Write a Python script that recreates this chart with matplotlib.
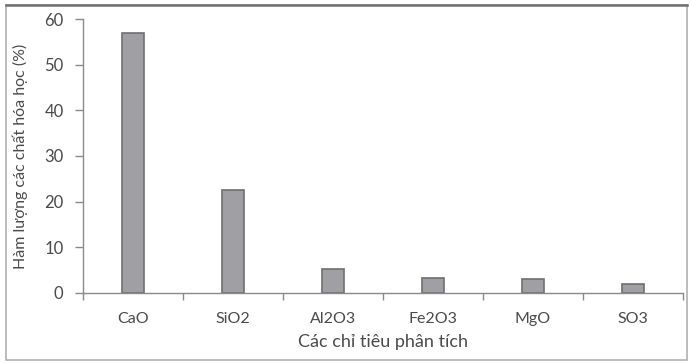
import matplotlib
matplotlib.use("Agg")
from matplotlib import pyplot as plt
from matplotlib.patches import Rectangle

categories = ['CaO', 'SiO2', 'Al2O3', 'Fe2O3', 'MgO', 'SO3']
values = [56.9, 22.6, 5.2, 3.3, 3.0, 1.8]

plt.rcParams['font.family'] = ['Lato', 'DejaVu Sans']
text_color = '#4a4a4a'
axis_color = '#8a8a8a'

fig = plt.figure(figsize=(6.91, 3.63), dpi=100)
ax = fig.add_axes([83 / 691, 1 - 292.7 / 363, 600 / 691, 273.4 / 363])

x = list(range(len(categories)))
ax.bar(x, values, width=0.22, color='#a0a0a4', edgecolor='#6f6f72', linewidth=1.2)

ax.set_xlim(-0.5, len(categories) - 0.5)
ax.set_ylim(0, 60)
ax.set_yticks(range(0, 61, 10))

# ticks at category boundaries, labels at centers
ax.set_xticks([i - 0.5 for i in range(len(categories) + 1)])
ax.set_xticklabels([])
ax.set_xticks(x, minor=True)
ax.set_xticklabels(categories, minor=True)
ax.tick_params(axis='x', which='minor', length=0, pad=14, labelsize=11.5, labelcolor=text_color)
ax.tick_params(axis='x', which='major', length=5, width=1, color=axis_color)
ax.tick_params(axis='y', length=6, width=1, color=axis_color, pad=8, labelsize=12, labelcolor=text_color)

for s in ['top', 'right']:
    ax.spines[s].set_visible(False)
for s in ['left', 'bottom']:
    ax.spines[s].set_color(axis_color)
    ax.spines[s].set_linewidth(1)

ax.set_xlabel('Các chỉ tiêu phân tích', fontsize=13, color=text_color, labelpad=6)
ax.set_ylabel('Hàm lượng các chất hóa học (%)', fontsize=11.5, color=text_color, labelpad=12)

# outer frame around the figure
fig.patches.append(Rectangle((6 / 691, 3 / 363), 681 / 691, 355 / 363, transform=fig.transFigure,
                             fill=False, edgecolor='#b0b0b0', linewidth=1.2))
fig.add_artist(plt.Line2D([6 / 691, 687 / 691], [358 / 363, 358 / 363], transform=fig.transFigure,
                          color='#707070', linewidth=1.8))

plt.savefig('out.png', dpi=100)
